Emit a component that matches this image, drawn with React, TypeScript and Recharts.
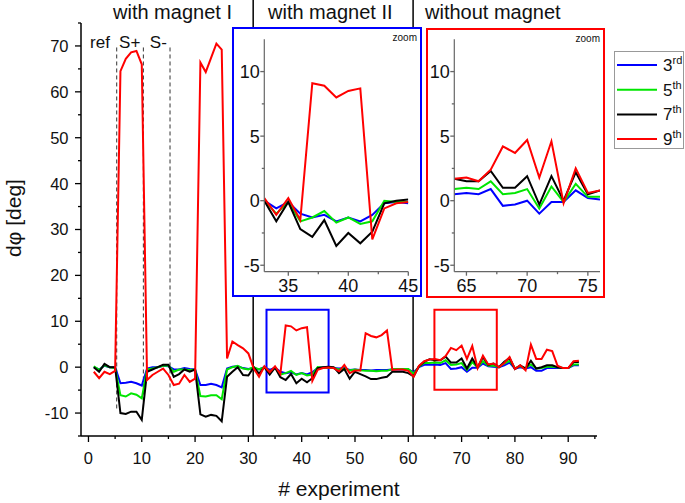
import React from "react";
import { LineChart, Line, XAxis, YAxis, ReferenceLine, ReferenceArea } from "recharts";

const FONT = "'Liberation Sans', Arial, Helvetica, sans-serif";

// experiment number 1..92
const experiment = Array.from({ length: 92 }, (_, i) => i + 1);

// dφ [deg] per harmonic
const third = [
  0, -0.5, 0.3, 0, 0, -3.5, -3.4, -3.2, -3.5, -4.0,
  -0.3, 0, 0, 0.3, 0.2, -0.5, -0.5, -0.2, -0.4, -0.5,
  -3.9, -3.9, -3.6, -3.9, -4.4, -0.3, 0.1, 0.2, -0.2, -0.4,
  -0.2, -0.5, 0, -0.6, -0.1, -1.0, -1.3, -1.1, -1.6, -1.3,
  -1.6, -1.1, -0.2, -0.1, -0.2, -0.2, -0.3, -0.2, -0.6, -0.5,
  -0.6, -0.6, -0.7, -0.6, -0.6, -0.6, -0.5, -0.5, -0.5, -0.5,
  -1.1, 0, 0.5, 0.5, 0.6, 0.5, 0.9, -0.4, -0.3, 0,
  -1.0, -0.1, -0.1, 0.8, 0.2, 0.1, 0, 0.4, 1.0, -0.3,
  0, -0.3, 0, -0.8, -0.8, -0.2, -0.2, -0.2, -0.2, -0.2,
  0.4, 0.4,
];
const fifth = [
  0.2, -0.6, 0.4, 0, -0.2, -6.1, -6.4, -5.7, -6.0, -6.8,
  -0.5, -0.3, 0, 0.3, 0.3, -1.0, -0.5, -0.5, -0.6, -0.5,
  -6.3, -6.4, -6.1, -6.1, -7.0, -0.5, 0, 0.3, -0.3, -0.5,
  0, -0.5, 0, -1.0, -0.1, -1.6, -1.3, -0.8, -1.7, -1.3,
  -1.8, -1.6, 0, -0.1, -0.1, -0.2, -0.5, -0.3, -0.7, -0.5,
  -0.7, -0.8, -0.8, -0.9, -0.8, -0.8, -0.4, -0.4, -0.4, -0.4,
  -1.4, 0.1, 0.9, 0.9, 1.0, 0.9, 1.5, 0.5, 0.6, 0.9,
  -0.6, 1.1, -0.1, 1.3, 0.3, 0.3, 0, 0.8, 1.4, -0.2,
  0.2, -0.2, 0.6, -0.3, -0.2, 0.1, 0.1, 0, -0.2, -0.2,
  0.6, 0.6,
];
const seventh = [
  0, -1.0, 0.7, 0, 0, -10.0, -10.2, -9.7, -9.7, -11.5,
  -1.0, -0.5, 0, 0.5, 0.5, -2.1, -1.5, -0.5, -1.0, -0.5,
  -10.3, -10.8, -10.4, -10.6, -11.8, -2.1, -1.0, 0, -1.7, -1.8,
  0, -1.4, 0, -1.6, -0.1, -2.2, -2.8, -1.5, -3.5, -2.5,
  -3.3, -2.4, -0.2, 0, 0.1, 0, -1.3, -0.4, -2.5, -1.0,
  -1.5, -2.0, -2.6, -2.6, -2.3, -2.1, -1.0, -1.0, -1.0, -1.3,
  -2.0, 0.2, 1.2, 1.7, 1.5, 1.5, 2.3, 1.0, 1.0, 1.9,
  -0.3, 1.9, 0, 2.2, 0.5, 0.8, 0, 1.2, 2.0, -0.4,
  0.4, -0.3, 1.4, -0.3, 0, 0.4, 0.4, 0, -0.2, -0.2,
  1.1, 1.1,
];
const ninth = [
  -1.0, -2.4, -1.0, -1.5, -0.8, 64.5, 67.2, 68.6, 68.9, 66.0,
  -2.8, -1.7, -1.0, -0.3, -1.7, -3.9, -3.6, -1.7, -3.2, -2.5,
  66.4, 64.3, 67.4, 70.5, 69.2, 1.9, 5.6, 4.8, 4.1, 3.0,
  -0.3, -2.1, 0.2, -1.1, 0.2, -1.5, 9.1, 8.9, 8.0, 8.5,
  8.7, -3.0, -0.6, -0.2, -0.1, -0.2, -0.9, 0.5, -1.3, -0.7,
  -0.7, 7.4, 6.8, 6.5, 7.0, 8.0, -0.6, -0.5, -0.5, -0.8,
  -2.1, 0.3, 1.3, 1.7, 1.8, 1.5, 2.4, 4.2, 3.7, 4.7,
  1.8, 4.6, -0.2, 2.5, 0.6, 0.8, 0, 0.9, 2.2, -0.4,
  0.4, -0.7, 4.9, 1.8, 1.8, 3.8, 3.5, 0.3, -0.2, -0.2,
  1.3, 1.4,
];

const seriesKeys = ["h3", "h5", "h7", "h9"];
const seriesColors = ["#0000ff", "#00e600", "#000000", "#ff0000"];
const legendBase = ["3", "5", "7", "9"];
const legendSup = ["rd", "th", "th", "th"];

const phaseLabels = ["with magnet I", "with magnet II", "without magnet"];
const phaseBounds = [30.9, 60.9];
const stageLabels = ["ref", "S+", "S-"];
const stageLines = [5.3, 10.3, 15.3];

const xTicks = [0, 5, 10, 15, 20, 25, 30, 35, 40, 45, 50, 55, 60, 65, 70, 75, 80, 85, 90, 95];
const yTicks = [-15, -10, -5, 0, 5, 10, 15, 20, 25, 30, 35, 40, 45, 50, 55, 60, 65, 70, 75];
const zoomYTicks = [-5, -2.5, 0, 2.5, 5, 7.5, 10];
const zoomATicks = [35, 37.5, 40, 42.5, 45];
const zoomBTicks = [65, 67.5, 70, 72.5, 75];

const rows = experiment.map((x, i) => ({
  x,
  h3: third[i],
  h5: fifth[i],
  h7: seventh[i],
  h9: ninth[i],
}));

type TickOpts = {
  side: "left" | "bottom";
  isMajor: (v: number) => boolean;
  major: number;
  minor: number;
  gap: number;
  fontSize: number;
  stroke: string;
};

function makeTick(o: TickOpts) {
  return (props: any) => {
    const { x, y, payload } = props;
    const v = payload.value as number;
    const major = o.isMajor(v);
    const len = major ? o.major : o.minor;
    if (o.side === "left") {
      return (
        <g>
          <line x1={x} y1={y} x2={x - len} y2={y} stroke={o.stroke} strokeWidth={1.3} />
          {major && (
            <text x={x - o.gap} y={y} dy="0.36em" textAnchor="end" fontSize={o.fontSize} fontFamily={FONT} fill="#111">
              {v}
            </text>
          )}
        </g>
      );
    }
    return (
      <g>
        <line x1={x} y1={y} x2={x} y2={y + len} stroke={o.stroke} strokeWidth={1.3} />
        {major && (
          <text x={x} y={y + o.gap} textAnchor="middle" fontSize={o.fontSize} fontFamily={FONT} fill="#111">
            {v}
          </text>
        )}
      </g>
    );
  };
}

const mainYTick = makeTick({
  side: "left", isMajor: (v) => v % 10 === 0 && v >= -10 && v <= 70,
  major: 6, minor: 3, gap: 12.5, fontSize: 16.5, stroke: "#000",
});
const mainXTick = makeTick({
  side: "bottom", isMajor: (v) => v % 10 === 0 && v <= 90,
  major: 6, minor: 3, gap: 28, fontSize: 16.5, stroke: "#000",
});
const zoomYTick = makeTick({
  side: "left", isMajor: (v) => v % 5 === 0,
  major: 4, minor: 2.5, gap: 4.5, fontSize: 18, stroke: "#666",
});
const zoomXTick = makeTick({
  side: "bottom", isMajor: (v) => v % 5 === 0,
  major: 4, minor: 2.5, gap: 20, fontSize: 18, stroke: "#666",
});

function ZoomChart({ from, to, ticks, width, height, left, right, top, bottom }: any) {
  const data = rows.filter((r) => r.x >= from && r.x <= to);
  return (
    <LineChart width={width} height={height} data={data} margin={{ top, right, left: 0, bottom: 0 }}>
      <XAxis
        type="number" dataKey="x" domain={[from, to]} allowDataOverflow ticks={ticks} interval={0}
        tickSize={0} tickMargin={0} tickLine={false} tick={zoomXTick} height={bottom}
        axisLine={{ stroke: "#666", strokeWidth: 1.2 }}
      />
      <YAxis
        type="number" domain={[-5.5, 12.5]} allowDataOverflow ticks={zoomYTicks} interval={0}
        tickSize={0} tickMargin={0} tickLine={false} tick={zoomYTick} width={left}
        axisLine={{ stroke: "#666", strokeWidth: 1.2 }}
      />
      {seriesKeys.map((k, i) => (
        <Line key={k} type="linear" dataKey={k} stroke={seriesColors[i]} strokeWidth={2} dot={false} isAnimationActive={false} />
      ))}
    </LineChart>
  );
}

export default function App() {
  return (
    <div style={{ position: "absolute", left: 0, top: 0, width: 685, height: 503, background: "#fff", fontFamily: FONT }}>
      <LineChart width={685} height={503} data={rows} margin={{ top: 23, right: 88, left: 0, bottom: 0 }}>
        <XAxis
          type="number" dataKey="x" domain={[-1.4, 95.4]} allowDataOverflow ticks={xTicks} interval={0}
          tickSize={0} tickMargin={0} tickLine={false} tick={mainXTick} height={67}
          axisLine={{ stroke: "#000", strokeWidth: 1.5 }}
        />
        <YAxis
          type="number" domain={[-15, 75]} allowDataOverflow ticks={yTicks} interval={0}
          tickSize={0} tickMargin={0} tickLine={false} tick={mainYTick} width={81}
          axisLine={{ stroke: "#000", strokeWidth: 1.5 }}
        />
        {phaseBounds.map((b) => (
          <ReferenceLine key={b} segment={[{ x: b, y: -15 }, { x: b, y: 80.5 }]} stroke="#000" strokeWidth={1.5} ifOverflow="visible" />
        ))}
        {stageLines.map((s) => (
          <ReferenceLine key={s} segment={[{ x: s, y: -9 }, { x: s, y: 70 }]} stroke="#333" strokeWidth={1} strokeDasharray="4 3" />
        ))}
        <ReferenceArea x1={33.4} x2={45.05} y1={-5.5} y2={12.5} fill="none" fillOpacity={0} stroke="#0000ff" strokeWidth={2} />
        <ReferenceArea x1={64.9} x2={76.6} y1={-4.9} y2={12.5} fill="none" fillOpacity={0} stroke="#ff0000" strokeWidth={2} />
        {seriesKeys.map((k, i) => (
          <Line key={k} type="linear" dataKey={k} stroke={seriesColors[i]} strokeWidth={2} dot={false} isAnimationActive={false} />
        ))}
      </LineChart>

      <svg width={685} height={503} style={{ position: "absolute", left: 0, top: 0, pointerEvents: "none" }} fontFamily={FONT}>
        <text x={113} y={19} fontSize={20} fill="#111">{phaseLabels[0]}</text>
        <text x={268} y={19} fontSize={20} fill="#111">{phaseLabels[1]}</text>
        <text x={425} y={19} fontSize={20} fill="#111">{phaseLabels[2]}</text>
        <text x={100} y={48} fontSize={17} textAnchor="middle" fill="#111">{stageLabels[0]}</text>
        <text x={129.7} y={48} fontSize={17} textAnchor="middle" fill="#111">{stageLabels[1]}</text>
        <text x={158.3} y={48} fontSize={17} textAnchor="middle" fill="#111">{stageLabels[2]}</text>
        <text x={339} y={496} fontSize={21} textAnchor="middle" fill="#111"># experiment</text>
        <text x={21} y={218} fontSize={21} textAnchor="middle" fill="#111" transform="rotate(-90 21 218)">dφ [deg]</text>
      </svg>

      <div style={{ position: "absolute", left: 232, top: 27, width: 190, height: 270, border: "2px solid #0000ff", boxSizing: "border-box", background: "#fff" }}>
        <ZoomChart from={33} to={45} ticks={zoomATicks} width={186} height={266} left={30.3} right={11.7} top={10.3} bottom={23.3} />
        <span style={{ position: "absolute", right: 3, top: 3, fontSize: 10, color: "#111" }}>zoom</span>
      </div>

      <div style={{ position: "absolute", left: 426, top: 28, width: 179, height: 270, border: "2px solid #ff0000", boxSizing: "border-box", background: "#fff" }}>
        <ZoomChart from={64} to={76} ticks={zoomBTicks} width={175} height={266} left={26.3} right={3} top={9.3} bottom={24.3} />
        <span style={{ position: "absolute", right: 3, top: 3, fontSize: 10, color: "#111" }}>zoom</span>
      </div>

      <div style={{ position: "absolute", left: 614, top: 51, width: 70, height: 98, border: "1px solid #999", boxSizing: "border-box", background: "#fff" }}>
        <svg width={68} height={96} fontFamily={FONT}>
          {legendBase.map((b, i) => (
            <g key={b}>
              <line x1={2} x2={42} y1={13 + i * 24.7} y2={13 + i * 24.7} stroke={seriesColors[i]} strokeWidth={2} />
              <text x={48} y={19 + i * 24.7} fontSize={17} fill="#111">
                {b}
                <tspan dy={-7} fontSize={11}>{legendSup[i]}</tspan>
              </text>
            </g>
          ))}
        </svg>
      </div>
    </div>
  );
}
